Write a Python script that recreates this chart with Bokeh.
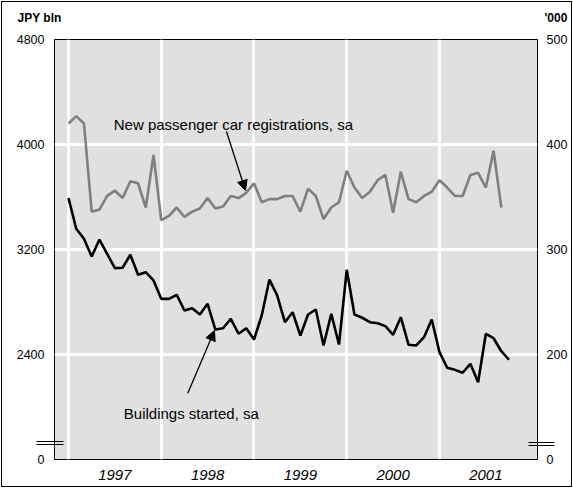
import pandas as pd
from bokeh.plotting import figure
from bokeh.models import (Range1d, LinearAxis, FixedTicker, Label, Arrow, NormalHead,
                          CustomJSTickFormatter)
from bokeh.embed import file_html
from bokeh.resources import INLINE

# ---- data (monthly, seasonally adjusted) ----
months_cars = pd.date_range("1997-01-01", periods=57, freq="MS")
months_bld = pd.date_range("1997-01-01", periods=58, freq="MS")

# New passenger car registrations, sa ('000, right axis)
cars = [420, 427, 420, 336, 338, 351, 356, 349, 365, 363, 340, 390,
        328, 332, 340, 331, 336, 339, 349, 339, 341, 351, 349, 354,
        363, 345, 348, 348, 351, 351, 336, 358, 351, 329, 340, 345,
        375, 359, 349, 355, 366, 371, 335, 374, 348, 345, 351, 355,
        366, 359, 351, 351, 371, 373, 359, 394, 340]

# Buildings started, sa (JPY bln, left axis)
buildings = [3591, 3358, 3282, 3147, 3276, 3167, 3058, 3061, 3160, 3007, 3027, 2964,
             2824, 2824, 2855, 2735, 2753, 2705, 2786, 2590, 2600, 2672, 2558, 2600,
             2514, 2697, 2971, 2850, 2646, 2722, 2545, 2705, 2743, 2469, 2710, 2476,
             3045, 2705, 2680, 2646, 2638, 2616, 2550, 2684, 2474, 2469, 2532, 2667,
             2418, 2299, 2283, 2261, 2329, 2189, 2558, 2524, 2425, 2360]

years = [1997, 1998, 1999, 2000, 2001]
left_ticks = [1600, 2400, 3200, 4000, 4800]
left_labels = {1600: "0"}
right_ticks = [100, 200, 300, 400, 500]
right_labels = {100: "0"}
# axis-break marks (drawn as short minor ticks across each axis)
left_break = [1713, 1739]
right_break = [113.4, 116.1]


def to_year(d):
    return [t.year + (t.month - 1) / 12 for t in d]


x_cars = to_year(months_cars)
x_bld = to_year(months_bld)

FONT = "Liberation Sans"

p = figure(width=573, height=488, output_backend="svg", toolbar_location=None,
           x_range=Range1d(1996.849, 2002.057), y_range=Range1d(1600, 4800),
           min_border_left=54, min_border_right=36, min_border_top=39, min_border_bottom=29,
           background_fill_color="#e0e0e0", border_fill_color=None,
           outline_line_color="black", outline_line_width=1)
p.extra_y_ranges = {"k": Range1d(100, 500)}
p.styles = {"box-shadow": "inset 0 0 0 1px white, inset 0 0 0 2px black",
            "background-color": "white"}

# grid
p.xgrid.ticker = FixedTicker(ticks=years)
p.xgrid.grid_line_color = "white"
p.xgrid.grid_line_width = 3
p.ygrid.ticker = FixedTicker(ticks=[2400, 3200, 4000])
p.ygrid.grid_line_color = "white"
p.ygrid.grid_line_width = 3

# x axis: year labels centred in each year
xa = p.xaxis[0]
xa.ticker = FixedTicker(ticks=[y + 0.5 for y in years])
xa.formatter = CustomJSTickFormatter(code="return String(Math.floor(tick));")
xa.major_label_text_font = FONT
xa.major_label_text_font_size = "15px"
xa.major_label_text_font_style = "italic"
xa.major_label_text_color = "black"
xa.major_label_standoff = 10
xa.axis_line_color = None
xa.major_tick_out = 0
xa.major_tick_in = 0
xa.minor_tick_out = 0
xa.minor_tick_in = 0

# left axis
ya = p.yaxis[0]
ya.ticker = FixedTicker(ticks=left_ticks, minor_ticks=left_break)
ya.major_label_overrides = left_labels
ya.major_label_text_font = FONT
ya.major_label_text_font_size = "12.5px"
ya.major_label_text_color = "black"
ya.major_label_standoff = -8
ya.axis_line_color = None
ya.major_tick_out = 0
ya.major_tick_in = 0
ya.minor_tick_out = 18
ya.minor_tick_in = 9
ya.minor_tick_line_color = "black"
ya.minor_tick_line_width = 1

# right axis
ra = LinearAxis(y_range_name="k",
                ticker=FixedTicker(ticks=right_ticks, minor_ticks=right_break),
                major_label_overrides=right_labels)
ra.major_label_text_font = FONT
ra.major_label_text_font_size = "12.5px"
ra.major_label_text_color = "black"
ra.major_label_standoff = -8
ra.axis_line_color = None
ra.major_tick_out = 0
ra.major_tick_in = 0
ra.minor_tick_out = 17
ra.minor_tick_in = 9
ra.minor_tick_line_color = "black"
ra.minor_tick_line_width = 1
p.add_layout(ra, "right")

# series
p.line(x_cars, cars, y_range_name="k", line_color="#7f7f7f", line_width=2.6)
p.line(x_bld, buildings, line_color="black", line_width=2.6)

# unit labels (placed in the top side panel, canvas pixel positions)
p.add_layout(Label(x=17, y=17, x_units="canvas", y_units="canvas", text="JPY bln",
                   text_font=FONT, text_font_size="12px", text_font_style="bold",
                   text_baseline="middle", text_color="black"), "above")
p.add_layout(Label(x=544, y=17, x_units="canvas", y_units="canvas", text="'000",
                   text_font=FONT, text_font_size="12px", text_font_style="bold",
                   text_baseline="middle", text_color="black"), "above")

# series annotations
p.add_layout(Label(x=1997.488, y=4152, text="New passenger car registrations, sa",
                   text_font=FONT, text_font_size="15px", text_baseline="alphabetic",
                   text_color="black"))
p.add_layout(Label(x=1997.596, y=1954, text="Buildings started, sa",
                   text_font=FONT, text_font_size="15px", text_baseline="alphabetic",
                   text_color="black"))
p.add_layout(Arrow(x_start=1998.703, y_start=4099, x_end=1998.908, y_end=3650,
                   line_color="black", line_width=1.3,
                   end=NormalHead(size=10, fill_color="black", line_color="black")))
p.add_layout(Arrow(x_start=1998.286, y_start=2105, x_end=1998.574, y_end=2583,
                   line_color="black", line_width=1.3,
                   end=NormalHead(size=10, fill_color="black", line_color="black")))

open("out.html", "w").write(file_html(p, INLINE))
